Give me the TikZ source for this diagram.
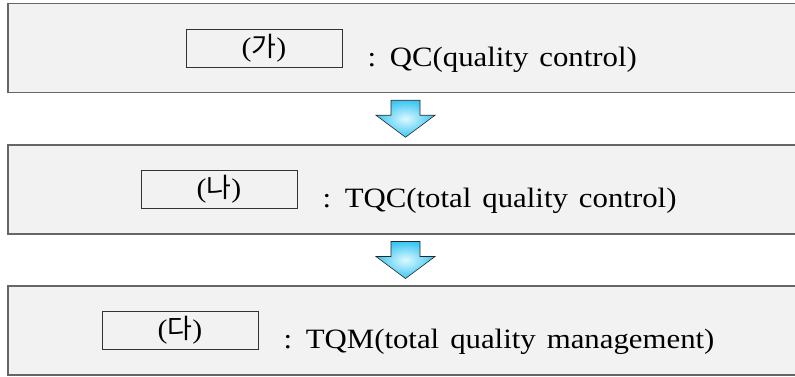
\documentclass[tikz,border=0pt]{standalone}
\usepackage{fontspec}
\setmainfont{Liberation Serif}[FakeStretch=1.1]
\newfontfamily\kofont{Noto Sans CJK KR}
\usetikzlibrary{calc}
\definecolor{boxgray}{HTML}{F2F2F2}
\definecolor{arrowlight}{HTML}{DDF8FF}
\definecolor{arrowblue}{HTML}{38C6F4}
\newcommand\stagefont{\fontsize{28}{32}\selectfont\spaceskip=11pt\relax}
\tikzset{
  stagebox/.style={draw=black!60, line width=1.2pt, fill=boxgray,
    minimum width=789pt, minimum height=89pt, inner sep=0pt},
  labelbox/.style={draw=black!80, line width=1pt, minimum width=156pt,
    minimum height=38pt, inner sep=0pt, font=\fontsize{27}{30}\selectfont},
  stagetext/.style={anchor=base west, inner sep=0pt, font=\stagefont},
  blockarrow/.style={draw=black!85, line width=0.6pt,
    inner color=arrowlight, outer color=arrowblue}
}
\begin{document}
\begin{tikzpicture}[x=1pt, y=-1pt]
   \useasboundingbox (0,0) rectangle (795,376);
   % three stages, top to bottom
   \foreach \i/\y/\lx/\k/\t in
     { 1/48/264/가/{QC(quality control)},
       2/189.5/219/나/{TQC(total quality control)},
       3/330.5/180/다/{TQM(total quality management)}
     }
   {
     \node[stagebox] (stage\i) at (402.5,\y) {};
     \node[labelbox] (lab\i) at (\lx,\y) {({\kofont\k})};
     \node[stagetext] (txt\i) at ([xshift=25pt, yshift=1.5pt]lab\i.south east) {: \t};
   }
   % arrows between stages
   \foreach \i/\j in {1/2, 2/3}
   {
     \coordinate (mid\i) at ($(stage\i.south)!0.5!(stage\j.north)+(3,0)$);
     \shadedraw[blockarrow] ($(mid\i)+(-14.5,-18.5)$) -- ++(29,0) -- ++(0,15)
       -- ++(15,0) -- ($(mid\i)+(0,18.5)$) -- ++(-29.5,-22) -- ++(15,0) -- cycle;
   }
\end{tikzpicture}
\end{document}
